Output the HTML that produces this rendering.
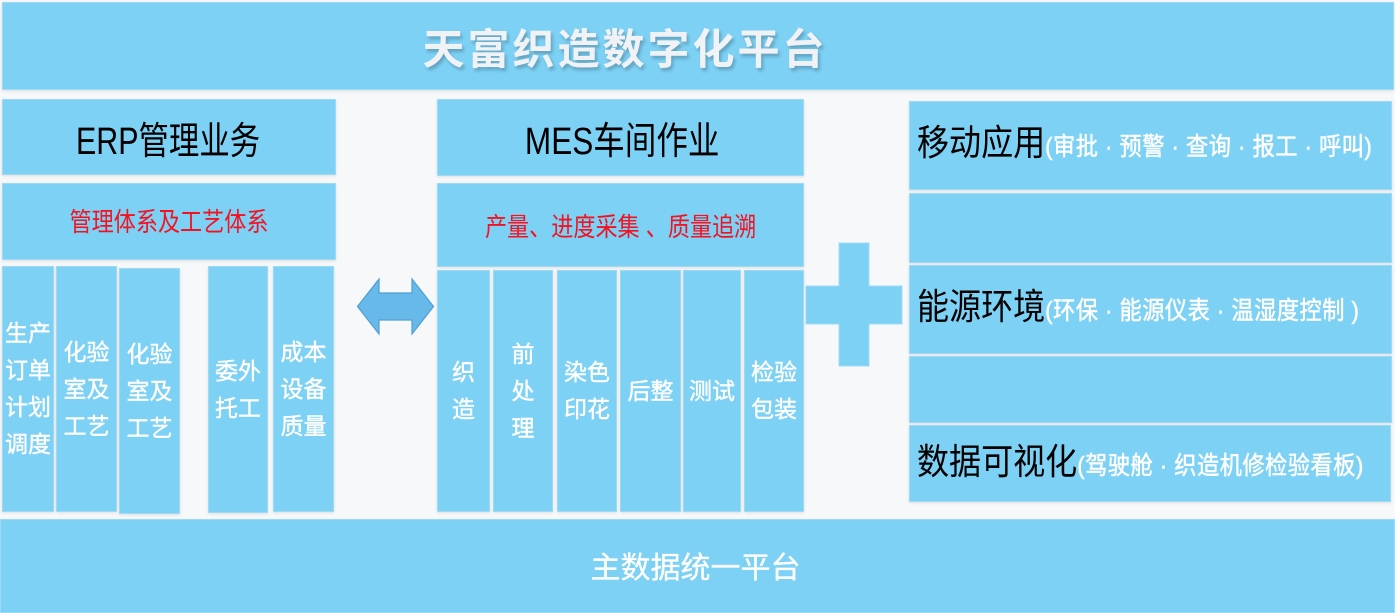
<!DOCTYPE html>
<html><head><meta charset="utf-8">
<style>
html,body{margin:0;padding:0;}
body{width:1395px;height:613px;background:#f7f8fa;position:relative;overflow:hidden;font-family:"Liberation Sans","Noto Sans CJK SC",sans-serif;}
.b{position:absolute;background:#7dd1f5;box-sizing:border-box;border:1px solid #9fdaf4;box-shadow:0 1px 3px rgba(0,0,0,0.10);}
.c{display:flex;align-items:center;justify-content:center;text-align:center;}
.col{color:#fff;font-size:23px;line-height:37px;-webkit-text-stroke:0.4px #fff;}
.red{color:#f51220;font-size:26px;transform:scaleX(0.85);transform-origin:center;}
.big{color:#000;font-size:38px;}
.rt{position:absolute;left:917px;white-space:nowrap;transform-origin:left center;transform:scaleX(0.89);}
.rt .k{color:#000;font-size:36px;}
.rt .s{color:#fff;font-size:25px;-webkit-text-stroke:0.5px #fff;letter-spacing:0.5px;}
</style></head><body>

<div class="b c" style="left:2px;top:2px;width:1392px;height:88px;">
  <span style="color:#f0f2f5;font-size:42px;font-weight:bold;letter-spacing:3px;text-shadow:2px 3px 3px rgba(0,0,0,0.22);margin-left:-146px;">天富织造数字化平台</span>
</div>

<!-- ERP -->
<div class="b c" style="left:2px;top:99px;width:334px;height:76px;"><span class="big" style="display:inline-block;margin-left:-2px;transform:scaleX(0.8);">ERP管理业务</span></div>
<div class="b c" style="left:2px;top:183px;width:334px;height:77px;"><span class="red" style="display:inline-block;margin-top:-2px;">管理体系及工艺体系</span></div>
<div class="b c col" style="left:2px;top:266px;width:52px;height:246px;">生产<br>订单<br>计划<br>调度</div>
<div class="b c col" style="left:56px;top:266px;width:61px;height:246px;">化验<br>室及<br>工艺</div>
<div class="b c col" style="left:119px;top:268px;width:61px;height:246px;">化验<br>室及<br>工艺</div>
<div class="b c col" style="left:208px;top:266px;width:60px;height:247px;">委外<br>托工</div>
<div class="b c col" style="left:273px;top:266px;width:61px;height:246px;">成本<br>设备<br>质量</div>

<!-- arrow + plus -->
<svg style="position:absolute;left:0;top:0;" width="1395" height="613">
  <polygon points="357.5,306.5 379,279 379,293 412,293 412,279 433.5,306.5 412,334 412,320 379,320 379,334" fill="#67b9e9" stroke="#4d9fd6" stroke-width="1.2"/>
  <polygon points="839,243 869,243 869,286 902,286 902,324 869,324 869,366 839,366 839,324 806,324 806,286 839,286" fill="#7dd1f5" stroke="#9fdaf4" stroke-width="1"/>
</svg>

<!-- MES -->
<div class="b c" style="left:437px;top:99px;width:367px;height:77px;"><span class="big" style="display:inline-block;margin-left:4px;transform:scaleX(0.83);">MES车间作业</span></div>
<div class="b c" style="left:437px;top:183px;width:367px;height:84px;"><span class="red" style="display:inline-block;">产量、进度采集 、质量追溯</span></div>
<div class="b c col" style="left:437px;top:270px;width:53px;height:242px;">织<br>造</div>
<div class="b c col" style="left:493px;top:270px;width:60px;height:242px;">前<br>处<br>理</div>
<div class="b c col" style="left:557px;top:270px;width:60px;height:242px;">染色<br>印花</div>
<div class="b c col" style="left:620px;top:270px;width:61px;height:242px;">后整</div>
<div class="b c col" style="left:683px;top:270px;width:58px;height:242px;">测试</div>
<div class="b c col" style="left:744px;top:270px;width:60px;height:242px;">检验<br>包装</div>

<!-- right -->
<div class="b" style="left:909px;top:101px;width:483px;height:89px;"></div>
<div class="b" style="left:909px;top:193px;width:483px;height:70px;"></div>
<div class="b" style="left:909px;top:265px;width:483px;height:89px;"></div>
<div class="b" style="left:909px;top:356px;width:483px;height:67px;"></div>
<div class="b" style="left:909px;top:425px;width:482px;height:77px;"></div>

<div class="rt" style="top:114px;"><span class="k">移动应用</span><span class="s">(审批 · 预警 · 查询 · 报工 · 呼叫)</span></div>
<div class="rt" style="top:278px;"><span class="k">能源环境</span><span class="s">(环保 · 能源仪表 · 温湿度控制 )</span></div>
<div class="rt" style="top:433px;"><span class="k">数据可视化</span><span class="s">(驾驶舱 · 织造机修检验看板)</span></div>

<!-- bottom -->
<div class="b c" style="left:0px;top:519px;width:1395px;height:94px;">
  <span style="color:#fff;font-size:30px;margin-left:-4px;margin-top:-2px;-webkit-text-stroke:0.3px #fff;">主数据统一平台</span>
</div>

</body></html>
